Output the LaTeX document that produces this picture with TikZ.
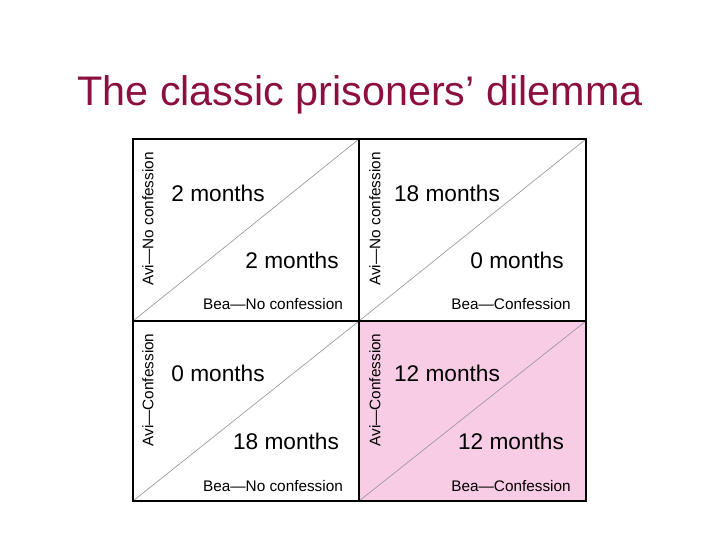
\documentclass[tikz,border=0pt]{standalone}
\usepackage{fontspec}
\setmainfont{Liberation Sans}
\definecolor{titlered}{HTML}{8B1040}
\definecolor{pinkcell}{HTML}{F8CCE4}
\begin{document}
\begin{tikzpicture}[x=0.75pt,y=-0.75pt,
  grid/.style={line width=2.2pt,black},
  diag/.style={line width=0.5pt,gray!80},
  pay/.style={font=\fontsize{17}{19}\selectfont,inner sep=0pt},
  lab/.style={font=\fontsize{11.5}{13}\selectfont,inner sep=0pt},
  side/.style={font=\fontsize{11.5}{13}\selectfont,inner sep=0pt,rotate=90}]
\useasboundingbox (0,0) rectangle (720,540);
\node[font=\fontsize{31}{34}\selectfont,text=titlered] (title) at (360,95) {The classic prisoners’ dilemma};
\fill[pinkcell] (359,321) rectangle (586,501);
\coordinate (a) at (133,139); \coordinate (b) at (359,139); \coordinate (c) at (586,139);
\coordinate (d) at (133,321); \coordinate (e) at (359,321); \coordinate (f) at (586,321);
\coordinate (g) at (133,501); \coordinate (h) at (359,501); \coordinate (i) at (586,501);
\draw[diag] (d) -- (b) (e) -- (c) (g) -- (e) (h) -- (f);
\draw[grid] (a) rectangle (i);
\draw[grid] (b) -- (h) (d) -- (f);
\node[pay] (p1) at (218,193) {2 months};
\node[pay] (p2) at (292,260) {2 months};
\node[pay] (p3) at (447,193) {18 months};
\node[pay] (p4) at (517,260) {0 months};
\node[pay] (p5) at (218,373) {0 months};
\node[pay] (p6) at (286,441) {18 months};
\node[pay] (p7) at (447,373) {12 months};
\node[pay] (p8) at (511,441) {12 months};
\node[lab] (l1) at (273,304) {Bea—No confession};
\node[lab] (l2) at (511,304) {Bea—Confession};
\node[lab] (l3) at (273,486) {Bea—No confession};
\node[lab] (l4) at (511,486) {Bea—Confession};
\node[side] (s1) at (148,219) {Avi—No confession};
\node[side] (s2) at (375,219) {Avi—No confession};
\node[side] (s3) at (148,390) {Avi—Confession};
\node[side] (s4) at (375,390) {Avi—Confession};
\end{tikzpicture}
\end{document}
